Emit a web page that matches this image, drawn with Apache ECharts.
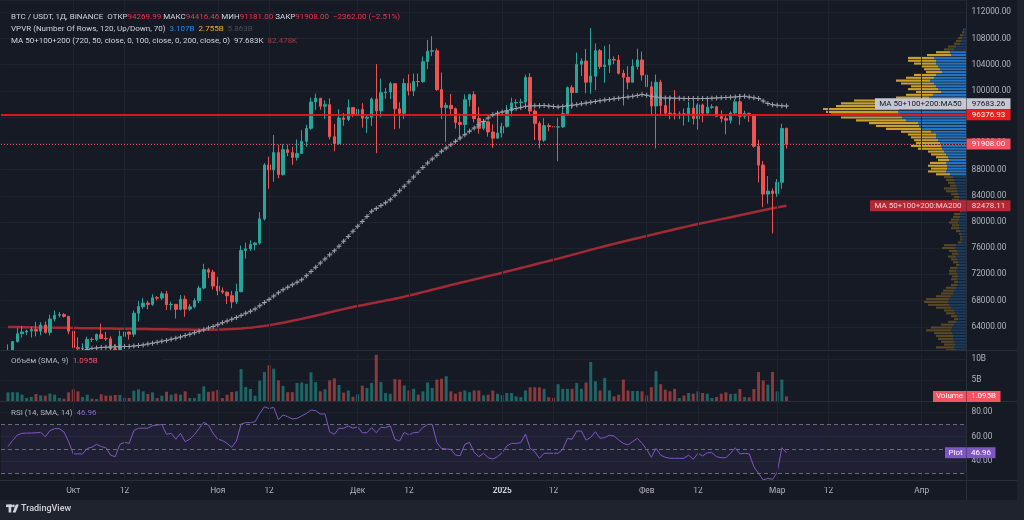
<!DOCTYPE html>
<html><head><meta charset="utf-8">
<script src="https://cdn.jsdelivr.net/npm/echarts@6/dist/echarts.min.js"></script>
<style>html,body{margin:0;padding:0;background:#161a25;overflow:hidden}#c{width:1024px;height:520px}</style>
</head><body><div id="c"></div>
<script>
// ---------------- DATA ----------------
const firstDate = '2024-09-16';        // first (empty) category slot
const categoryCount = 207;              // Sep 16 2024 .. Apr 10 2025
const candleStart = '2024-09-17';
const open = [58212,60309,61759,62948,63201,63348,63578,63339,64262,63152,65173,65769,65858,65602,
63327,60804,60649,60754,62086,62058,62819,62224,62160,60636,60326,62540,63206,62870,66083,67074,67620,67421,68428,68378,69032,67377,67426,66668,68199,66698,67048,67979,69907,72720,72340,
70215,69486,69289,68742,67811,69359,75640,75904,76545,76778,80471,88705,87955,90588,87251,91032,90587,89855,90465,92310,94286,98317,98892,97672,97901,93010,91965,95864,95643,97461,
96408,97185,95840,96002,98768,96945,99740,99832,101110,97276,96593,101125,100000,101424,101420,104463,106058,106133,100204,97461,97805,97292,95187,94881,98663,99430,95792,94299,95300,93738,92792,
93576,94592,96985,98174,98236,98314,102078,96922,95043,92484,94701,94566,94488,94516,96534,100505,99757,104079,104556,101331,102260,106144,103706,103960,104819,104714,102682,102087,101332,103733,104722,
102429,100635,97700,101328,97763,96613,96554,96462,96500,96444,97391,95778,97870,96608,97500,97570,96118,95780,95539,96635,98334,96125,96577,96273,91552,88680,84250,84708,
84350,86064,94269.99];
const high = [61320,61786,63850,64133,63559,64000,64745,64688,64817,65839,66498,66260,66076,65618,
64130,62390,61470,62484,62370,62975,64478,63200,62543,61321,63417,63480,63285,66500,67950,68424,67939,68969,68694,69400,69500,67836,67472,68850,68771,67454,68350,70270,73620,72961,72700,
71632,70000,69380,69481,70577,76400,76849,77199,76955,81500,89000,89956,93265,91790,91850,91779,91449,92594,94002,94831,98988,99588,98908,98564,98871,94973,97208,96650,98693,97499,
97836,98130,96305,99000,104088,101898,100439,101399,101215,98270,101895,102540,102650,102650,105250,107793,108353,106470,102800,98233,99540,97448,96538,99487,99569,99963,97544,95525,95340,94903,96250,
95151,97839,98976,98734,98813,102482,102724,97258,95349,95836,95050,95361,95900,97371,100681,100873,105865,104988,106422,109588,107240,106394,106850,107120,105286,105500,103220,103783,104800,106457,106012,
102783,101456,102500,101700,99113,99197,100137,96880,97323,98345,98478,98119,98078,98826,97972,97732,97047,96300,96890,98756,99508,96980,96670,96500,92540,89286,87000,85120,
86543,95000,94416.46];
const low = [57610,59174,61555,62350,62759,62357,62538,62700,62947,62670,64819,65422,65432,62856,
60164,59828,59900,60460,61675,61798,62128,61860,60300,58946,60087,62487,62050,62457,64800,66750,66666,67177,68020,68100,66570,66571,65260,66510,65520,66439,66800,67618,69730,71436,69685,
68820,69000,67478,66835,67458,69298,74416,75555,75679,76492,80216,85072,86127,86668,87073,90056,88722,89376,90389,91500,94040,97122,97137,95734,92600,90791,91792,94677,95407,96000,
95693,94395,93578,94660,90500,95981,98844,98771,94150,94256,95700,99311,99206,100626,101234,103333,105321,100000,95700,92232,96398,94250,92520,93400,97632,95200,93500,94014,93010,91317,92750,
92888,94392,96100,97562,97291,97926,96182,92500,91220,92206,93831,93712,89256,94322,96500,97268,99700,102277,99651,99550,100119,103339,101262,102750,104106,102520,97777,100233,101328,103278,101560,
100280,96150,91231,96150,96150,95677,95650,95688,94713,95256,94876,94088,95217,96250,97232,96046,95205,93388,95026,96400,94830,95770,95270,91350,86050,82256,82786,78258,
83824,85040,91181];
const close = [60309,61759,62947,63201,63348,63578,63339,64262,63152,65173,65769,65858,65602,63327,
60805,60649,60752,62086,62058,62819,62224,62160,60636,60326,62540,63206,62870,66083,67074,67620,67421,68428,68378,69032,67377,67426,66668,68199,66698,67048,67979,69907,72720,72340,70215,
69482,69289,68741,67811,69359,75639,75904,76545,76778,80474,88701,87955,90585,87250,91032,90587,89855,90465,92310,94286,98317,98892,97672,97900,93010,91965,95864,95643,97460,96408,
97185,95840,96002,98768,96945,99740,99831,101109,97276,96593,101125,100000,101424,101420,104463,106058,106133,100204,97461,97805,97291,95187,94881,98663,99430,95792,94299,95300,93738,92792,93576,
94592,96985,98174,98236,98314,102078,96922,95043,92484,94701,94566,94488,94516,96534,100504,99756,104079,104556,101331,102260,106144,103706,103960,104819,104714,102682,102087,101332,103733,104722,102429,
100635,97700,101328,97763,96613,96554,96462,96500,96444,97391,95778,97870,96608,97500,97570,96118,95780,95539,96635,98334,96125,96577,96273,91552,88680,84250,84708,84350,
86064,94270,91908];
// volume, billions
const volume = [2.06,2.1,2.06,1.5,0.7,0.95,1.67,1.35,1.27,1.8,1.5,0.7,0.55,2.06,
2.78,2.3,0.95,1.5,0.55,0.48,1.6,1.27,1.27,1.43,1.43,0.7,0.7,2.46,2.78,2.3,1.67,2.06,0.7,1.27,2.2,1.5,1.75,1.5,2.3,0.7,0.7,1.75,3.5,2.2,2.3,
2.6,0.7,1.5,2.14,2.3,7.6,3.3,2.86,1.27,4.84,6.9,8.5,7.7,4.9,3.6,2.1,2.1,4.3,4.4,4.1,6.8,4.5,2.3,2.8,4.9,5.4,3.8,2.0,2.5,1.0,
1.6,3.65,3.1,4.3,11.0,4.5,1.9,1.7,5.2,5.1,3.7,2.5,2.9,1.5,2.3,4.4,3.1,5.1,5.3,5.9,2.3,1.75,2.2,2.5,2.1,2.5,2.5,1.35,1.5,2.5,1.75,
1.4,1.9,1.9,1.1,0.9,2.5,3.25,3.25,3.25,2.9,0.9,0.7,4.0,2.9,2.9,2.9,4.3,2.9,4.4,9.3,4.7,2.5,5.5,2.5,1.1,1.5,5.1,2.5,2.4,2.4,2.3,
1.3,3.3,7.1,4.0,2.7,2.3,2.9,0.7,1.3,1.9,1.75,2.3,1.9,1.75,0.7,0.95,1.75,2.06,1.67,1.75,2.86,0.95,0.87,2.86,6.9,4.9,3.9,6.9,
2.3,5.1,1.095];
const rsi = [52,57,61.4,62.8,63,63,63.2,63.6,60,65,66.6,66.6,64,56,
46,46,46,50.5,51.4,53.8,52,51,45,43.7,53.8,55.4,54.6,65,67,67,67,69,69.6,70,62,62.8,58,62.8,56,58,61.7,66.9,71.8,69.6,62.8,
58,57,54.6,51.4,56.5,70.4,71.5,71.5,72.3,79,84.5,83,84,74,77.8,76.4,74.5,75,77,79,81.8,81.3,78.6,78.6,64,62,66.9,66.9,68.8,66.9,
68.2,63.3,63.3,67.4,63.3,67.7,67.4,69,57.9,56.5,63.6,61.4,63.3,63.6,67.4,70.1,70.1,55.2,50.5,50,49.7,45,44.6,53.8,55.4,47.3,43.7,46.5,42.9,41.8,43.7,
47,52.4,54.6,54.6,55.2,62.2,50.5,47.8,42.4,46.5,46.5,46.5,46.5,49.7,58.7,57.9,64.7,64.7,57.3,59.5,64.1,58.7,59.3,61.2,60.6,57.3,54.6,53.3,56,58.7,54.6,
49.7,43.2,50.5,45,43.2,42.4,42.4,42.4,42.4,45,41.6,46.5,44.3,47,47,43.7,42.9,42.9,46.5,51,46,46.5,46,35.6,30.1,24.7,26,25.2,
31,51,46.96];
const ma50Start = '2024-10-03';
const ma50 = [60350,60520,60680,60780,60850,60880,60900,60940,60960,60990,
61000,61050,61130,61240,61370,61500,61640,61780,61920,62080,
62250,62450,62660,62880,63100,63330,63560,63800,64060,64330,
64600,64880,65150,65420,65740,66050,66380,66720,67200,67700,
68180,68700,69180,69670,70050,70420,70800,71190,71800,72450,
73100,73740,74350,74980,75620,76280,77050,77800,78580,79330,
80080,80850,81620,82050,82500,82950,83400,84080,84760,85440,
86150,86870,87580,88300,89010,89600,90190,90780,91300,91800,
92320,92820,93330,93840,94340,94850,95350,95860,96380,96580,
96780,96960,97150,97320,97480,97650,97690,97720,97740,97760,
97700,97620,97550,97640,97730,97820,97910,98030,98160,98280,
98400,98520,98620,98710,98800,98900,98990,99080,99180,99310,
99440,99330,99200,99080,98960,98930,98910,98890,98880,98860,
98850,98840,98830,98830,98860,98900,98940,98970,99000,99030,
99090,99140,99180,99060,98950,98830,98450,98070,97900,97800,
97740,97683.26];
const ma200 = [63970,63960,63950,63940,63930,63920,63910,63900,63890,63880,
63870,63860,63850,63840,63820,63800,63790,63780,63770,63760,
63750,63740,63730,63720,63710,63700,63690,63680,63670,63660,
63650,63640,63630,63620,63610,63600,63590,63580,63575,63570,
63565,63560,63560,63560,63560,63570,63590,63620,63650,63690,
63740,63800,63870,63950,64040,64140,64250,64370,64500,64630,
64770,64910,65060,65210,65370,65530,65690,65860,66030,66200,
66370,66540,66700,66860,67010,67160,67300,67440,67580,67720,
67860,68000,68140,68290,68440,68600,68770,68940,69110,69290,
69470,69650,69830,70010,70190,70370,70540,70710,70880,71050,
71220,71390,71560,71730,71900,72070,72250,72430,72610,72790,
72970,73150,73330,73510,73690,73870,74050,74230,74410,74600,
74790,74980,75170,75360,75550,75740,75930,76120,76300,76480,
76660,76840,77010,77180,77350,77520,77690,77860,78030,78200,
78370,78540,78710,78880,79050,79210,79370,79530,79680,79830,
79980,80130,80280,80430,80580,80730,80880,81030,81180,81330,
81480,81630,81780,81930,82080,82220,82350,82478.11];
const horizontalLevel = 96376.93;
// volume profile (VPVR), 120 rows bottom->top, millions
const profileLow = 57610, profileHigh = 109588, profileRows = 120;
const valueAreaRows = [68, 111];
const profileUp = [328,369,410,328,410,369,410,492,451,492,533,533,574,615,574,492,410,328,369,451,
492,615,697,738,697,615,533,492,410,369,328,369,328,369,410,369,287,328,369,410,
328,369,451,410,205,164,164,205,246,287,287,328,287,246,246,164,205,205,246,287,
287,328,369,369,410,451,492,533,656,820,779,779,820,697,738,820,902,984,1025,1066,
1148,1230,1230,1435,1804,1927,1968,2460,2624,2706,2788,2747,2665,2542,2255,1517,1353,1025,1148,1230,
1312,1476,1312,1230,984,1066,1148,1230,1230,1312,615,656,492,410,246,205,164,123,82,82];
const profileDown = [410,451,492,328,574,451,410,738,451,533,615,697,738,1025,861,533,328,164,246,369,
410,615,861,984,943,615,492,451,410,246,164,246,246,328,287,287,123,205,246,328,
246,328,533,492,123,82,82,82,164,328,287,369,328,287,246,82,82,123,164,287,
205,287,451,533,246,287,328,369,574,738,656,779,656,451,492,615,656,984,1230,984,
984,1025,1148,1230,1476,1763,2009,2050,2501,2829,2952,3116,2665,2583,2337,1353,1107,1025,1230,1025,
1353,1394,1148,902,656,656,697,902,1148,1066,984,574,410,328,246,205,164,123,82,41];
const vpvrLegend = ['3.107B', '2.755B', '5.863B'];
const monthNames = ['Янв','Фев','Мар','Апр','Май','Июн','Июл','Авг','Сен','Окт','Ноя','Дек'];

// ---------------- BUILD ----------------
const F = 'Roboto, "Liberation Sans", sans-serif';
const BG = '#161a25', TXT = '#b2b5be', GRID = '#1f2330', SEP = '#2a2e39';
const UP = '#26a69a', DOWN = '#ef5350';
const AX = 8.3;   // axis label font size
const p0 = firstDate.split('-').map(Number);
const categories = [];
for (let i = 0; i < categoryCount; i++) categories.push(new Date(Date.UTC(p0[0], p0[1]-1, p0[2] + i)).toISOString().slice(0, 10));
const cIdx0 = categories.indexOf(candleStart);
const dates = open.map((_, k) => categories[cIdx0 + k]);
const gridDates = categories.filter(c => c.endsWith('-01') || c.endsWith('-12'));
const m50i = categories.indexOf(ma50Start);

const candleData = dates.map((d, k) => [d, open[k], close[k], low[k], high[k]]);
const volData = dates.map((d, k) => [d, volume[k], close[k] >= open[k] ? 1 : -1]);
const rsiData = dates.map((d, k) => [d, rsi[k]]);
const ma200Data = dates.map((d, k) => [d, ma200[k]]);
const ma50Data = ma50.map((v, k) => [categories[m50i + k], v]);
const profData = profileUp.map((u, k) => [k, u, profileDown[k]]);
const rowH = (profileHigh - profileLow) / profileRows;
const profMax = 8200;

const L = open.length - 1;
const lastClose = close[L];

const catAxis = (gi, extra) => Object.assign({
  type: 'category', gridIndex: gi, data: categories, boundaryGap: true,
  axisLine: {show: false}, axisTick: {show: false}, axisLabel: {show: false}, splitLine: {show: false}
}, extra || {});
const valAxisStyle = {
  position: 'right', axisLine: {show: false}, axisTick: {show: false},
  splitLine: {show: true, lineStyle: {color: GRID, width: 1}}
};
const vLines = gridDates.map(d => ({xAxis: d}));
const hiddenLine = {opacity: 0};
const gridBase = {containLabel: false, outerBoundsMode: 'none'};

const crossPath = 'path://M2,0L3,0L3,2L5,2L5,3L3,3L3,5L2,5L2,3L0,3L0,2L2,2Z';

const option = {
  backgroundColor: BG,
  animation: false,
  textStyle: {fontFamily: F},
  grid: [
    Object.assign({left: 1, top: 0, width: 965, height: 353}, gridBase),
    Object.assign({left: 1, top: 350, width: 965, height: 51}, gridBase),
    Object.assign({left: 1, top: 401, width: 965, height: 84.75}, gridBase),
    Object.assign({left: 766, top: 0, width: 200, height: 353}, gridBase)
  ],
  xAxis: [
    catAxis(0), catAxis(1),
    catAxis(2, {axisLabel: {
      show: true, margin: 1, color: TXT, fontSize: AX, fontFamily: F,
      interval: (i, v) => v.endsWith('-01') || v.endsWith('-12'),
      formatter: v => {
        const [y, m, d] = v.split('-');
        if (d === '12') return '12';
        if (m === '01') return '{y|' + y + '}';
        return monthNames[+m - 1];
      },
      rich: {y: {fontWeight: 'bold', color: '#d1d4dc', fontSize: AX, fontFamily: F}}
    }}),
    {type: 'value', gridIndex: 3, min: 0, max: profMax, inverse: true, show: false}
  ],
  yAxis: [
    Object.assign({type: 'value', gridIndex: 0, min: 60000, max: 113880, interval: 4000,
      axisLabel: {color: TXT, fontSize: AX, fontFamily: F, margin: 5.5, showMinLabel: false, showMaxLabel: false,
        formatter: v => v.toFixed(2)}}, valAxisStyle),
    Object.assign({type: 'value', gridIndex: 1, min: 0, max: 12.14, interval: 5,
      axisLabel: {color: TXT, fontSize: AX, fontFamily: F, margin: 5.5, showMinLabel: false, showMaxLabel: false,
        formatter: v => v + 'B'}}, valAxisStyle),
    Object.assign({type: 'value', gridIndex: 2, min: 20, max: 89.18, interval: 20,
      axisLabel: {color: TXT, fontSize: AX, fontFamily: F, margin: 5.5, showMinLabel: false, showMaxLabel: false,
        formatter: v => v.toFixed(2)}}, valAxisStyle),
    {type: 'value', gridIndex: 3, min: 60000, max: 113880, show: false}
  ],
  series: [
    // grid helper (price pane): vertical grid + last price dotted line
    {type: 'line', xAxisIndex: 0, yAxisIndex: 0, z: 1, silent: true, clip: true, data: dates.map((d, k) => [d, close[k]]),
      symbol: 'none', lineStyle: hiddenLine,
      markLine: {silent: true, symbol: 'none', label: {show: false}, animation: false,
        lineStyle: {color: GRID, width: 1, type: 'solid'},
        data: vLines.concat([{yAxis: lastClose, lineStyle: {color: '#f7525f', width: 1, type: [1, 2]}}])}},
    // volume profile
    {type: 'custom', xAxisIndex: 3, yAxisIndex: 3, z: 2, silent: true, clip: true, data: profData,
      renderItem: (params, api) => {
        const k = api.value(0), up = api.value(1), dn = api.value(2);
        const lo = profileLow + k * rowH, hi = lo + rowH;
        const a = api.coord([0, hi]), b = api.coord([up, lo]), c = api.coord([up + dn, lo]);
        const inVA = k >= valueAreaRows[0] && k <= valueAreaRows[1];
        const y = a[1] + 0.35, h = Math.max(0.8, b[1] - a[1] - 0.7);
        return {type: 'group', children: [
          {type: 'rect', shape: {x: b[0], y, width: a[0] - b[0], height: h}, style: {fill: inVA ? '#2674bd' : '#1c3b5c'}},
          {type: 'rect', shape: {x: c[0], y, width: b[0] - c[0], height: h}, style: {fill: inVA ? '#c9a02e' : '#574826'}}
        ]};
      }},
    // MA200
    {type: 'line', xAxisIndex: 0, yAxisIndex: 0, z: 3, silent: true, clip: true, data: ma200Data, symbol: 'none',
      lineStyle: {color: '#a32a35', width: 2.5}},
    // candles
    {type: 'candlestick', xAxisIndex: 0, yAxisIndex: 0, z: 4, silent: true, clip: true, data: candleData,
      encode: {x: 0, y: [1, 2, 3, 4]}, barWidth: 3,
      itemStyle: {color: UP, color0: DOWN, borderColor: UP, borderColor0: DOWN, borderWidth: 1},
      markLine: {silent: true, symbol: 'none', label: {show: false}, animation: false,
        data: [{yAxis: horizontalLevel, lineStyle: {color: '#e3161c', width: 2, type: 'solid', opacity: 0.95}}]}},
    // MA50 (cross style)
    {type: 'line', xAxisIndex: 0, yAxisIndex: 0, z: 5, silent: true, clip: true, data: ma50Data,
      symbol: crossPath, symbolSize: 5, showSymbol: true, showAllSymbol: true,
      itemStyle: {color: '#9ea1aa'}, lineStyle: {color: '#70737d', width: 1}},
    // volume pane helper
    {type: 'line', xAxisIndex: 1, yAxisIndex: 1, z: 1, silent: true, data: volData.map(v => [v[0], v[1]]),
      symbol: 'none', lineStyle: hiddenLine,
      markLine: {silent: true, symbol: 'none', label: {show: false}, animation: false,
        lineStyle: {color: GRID, width: 1, type: 'solid'}, data: vLines}},
    {type: 'bar', xAxisIndex: 1, yAxisIndex: 1, z: 2, silent: true, clip: true, data: volData, barWidth: 3,
      encode: {x: 0, y: 1},
      itemStyle: {color: p => p.data[2] > 0 ? 'rgba(38,166,154,0.55)' : 'rgba(239,83,80,0.55)'}},
    // RSI pane helper
    {type: 'line', xAxisIndex: 2, yAxisIndex: 2, z: 1, silent: true, data: rsiData,
      symbol: 'none', lineStyle: hiddenLine,
      markArea: {silent: true, itemStyle: {color: 'rgba(126,87,194,0.1)'}, data: [[{yAxis: 30}, {yAxis: 70}]]},
      markLine: {silent: true, symbol: 'none', label: {show: false}, animation: false,
        lineStyle: {color: GRID, width: 1, type: 'solid'},
        data: vLines.concat([70, 50, 30].map(v => ({yAxis: v, lineStyle: {color: '#6a6d78', width: 1, type: [4, 3]}})))}},
    {type: 'line', xAxisIndex: 2, yAxisIndex: 2, z: 3, silent: true, clip: true, data: rsiData, symbol: 'none',
      lineStyle: {color: '#7e57c2', width: 1}}
  ]
};

const chart = echarts.init(document.getElementById('c'));
chart.setOption(option);

// ---------------- OVERLAYS ----------------
const py = v => chart.convertToPixel({yAxisIndex: 0}, v);
const vy = v => chart.convertToPixel({yAxisIndex: 1}, v);
const ry = v => chart.convertToPixel({yAxisIndex: 2}, v);
const px = d => chart.convertToPixel({xAxisIndex: 0}, d);
const fnt = s => s + 'px ' + F;
const els = [];
const rect = (x, y, w, h, fill, z) => els.push({type: 'rect', z: z || 60, silent: true, shape: {x, y, width: w, height: h}, style: {fill}});
const line = (x1, y1, x2, y2, stroke, z) => els.push({type: 'line', z: z || 70, silent: true, shape: {x1, y1, x2, y2}, style: {stroke, lineWidth: 1}});
const text = (x, y, t, fill, opts) => els.push(Object.assign({type: 'text', z: 80, silent: true, x, y,
  style: Object.assign({text: t, fill, font: fnt(8), align: 'left', verticalAlign: 'middle'}, (opts || {}))}));
const tag = (x, w, yc, bg, t, col) => { rect(x, yc - 5.5, w, 11, bg, 75); text(x + w / 2, yc, t, col, {align: 'center'}); };

// covers for price overflow below the price pane (candles are only dropped when fully outside)
const overflowBottom = Math.ceil(py(Math.min.apply(null, low))) + 2;
const lowCandleEnd = Math.ceil(px('2024-10-20'));
rect(0, 350.5, 966, 3.5, BG, 50);
rect(0, 350.5, lowCandleEnd, overflowBottom - 350.5, BG, 50);
gridDates.forEach(d => { const x = px(d); if (x < lowCandleEnd) line(x, 351, x, overflowBottom, GRID, 55); });
rect(0, 481, 966, 6, BG, 50);
// frame strips
rect(1017, 0, 7, 520, '#1f232e', 90);
rect(0, 500, 1024, 20, '#1f232e', 90);
// separators
line(0, 350.5, 1017, 350.5, SEP);
line(0, 401.5, 1017, 401.5, SEP);
line(0, 480.5, 1017, 480.5, SEP);
line(966.5, 0, 966.5, 500, SEP);

// price tags
const yMA50 = py(ma50[ma50.length - 1]), yLvl = py(horizontalLevel), yLast = py(lastClose), yMA200 = py(ma200[L]);
const yMA50tag = Math.min(yMA50, yLvl - 11);
tag(875, 91, yMA50tag, '#c5c8d0', 'MA 50+100+200:MA50', '#131722');
tag(966.5, 44, yMA50tag, '#c5c8d0', ma50[ma50.length - 1].toFixed(2), '#131722');
tag(966.5, 44, yLvl, '#f01c1c', horizontalLevel.toFixed(2), '#ffffff');
tag(966.5, 44, yLast, '#f7525f', lastClose.toFixed(2), '#ffffff');
tag(870, 96, yMA200, '#b22833', 'MA 50+100+200:MA200', '#f0d0d3');
tag(966.5, 44, yMA200, '#b22833', ma200[L].toFixed(2), '#f0d0d3');
tag(933, 33, vy(volume[L]), '#f7525f', 'Volume', '#ffffff');
tag(966.5, 34, vy(volume[L]), '#f7525f', volume[L].toFixed(3) + 'B', '#ffffff');
tag(945, 21, ry(rsi[L]), '#7e57c2', 'Plot', '#ffffff');
tag(966.5, 29, ry(rsi[L]), '#7e57c2', rsi[L].toFixed(2), '#ffffff');

// legends
const chg = close[L] - close[L - 1];
const pct = chg / close[L - 1] * 100;
const sgn = v => (v < 0 ? '\u2212' : '+') + Math.abs(v).toFixed(2);
const R = c => ({fill: c, fontSize: 8, fontFamily: F});
els.push({type: 'text', z: 80, silent: true, x: 11, y: 16.5, style: {
  text: '{t|BTC / USDT, 1Д, BINANCE  ОТКР}{r|' + open[L].toFixed(2) + '}{t| МАКС}{r|' + high[L].toFixed(2) +
        '}{t| МИН}{r|' + low[L].toFixed(2) + '}{t| ЗАКР}{r|' + close[L].toFixed(2) + '}{r|  ' + sgn(chg) + ' (' + sgn(pct) + '%)}',
  verticalAlign: 'middle', rich: {t: R('#d1d4dc'), r: R('#f23645')}}});
els.push({type: 'text', z: 80, silent: true, x: 11, y: 28.5, style: {
  text: '{t|VPVR (Number Of Rows, ' + profileRows + ', Up/Down, 70)  }{b|' + vpvrLegend[0] + '}{t|  }{y|' + vpvrLegend[1] + '}{t|  }{g|' + vpvrLegend[2] + '}',
  verticalAlign: 'middle', rich: {t: R('#d1d4dc'), b: R('#2a8ae0'), y: R('#e9b42c'), g: R('#4a4d58')}}});
els.push({type: 'text', z: 80, silent: true, x: 11, y: 40.5, style: {
  text: '{t|MA 50+100+200 (720, 50, close, 0, 100, close, 0, 200, close, 0)  }{w|' + (ma50[ma50.length - 1] / 1000).toFixed(3) + 'K}{t|  }{m|' + (ma200[L] / 1000).toFixed(3) + 'K}',
  verticalAlign: 'middle', rich: {t: R('#d1d4dc'), w: R('#d1d4dc'), m: R('#b8323d')}}});
els.push({type: 'text', z: 80, silent: true, x: 11, y: 361, style: {
  text: '{t|Объём (SMA, 9)  }{r|' + volume[L].toFixed(3) + 'B}', verticalAlign: 'middle', rich: {t: R('#b2b5be'), r: R('#f7525f')}}});
els.push({type: 'text', z: 80, silent: true, x: 11, y: 413.3, style: {
  text: '{t|RSI (14, SMA, 14)  }{r|' + rsi[L].toFixed(2) + '}', verticalAlign: 'middle', rich: {t: R('#b2b5be'), r: R('#8f6ad4')}}});

// TradingView logo
els.push({type: 'rect', z: 95, silent: true, shape: {x: 6, y: 504.5, width: 6, height: 2.6}, style: {fill: '#d1d4dc'}});
els.push({type: 'rect', z: 95, silent: true, shape: {x: 8.6, y: 504.5, width: 2.6, height: 8}, style: {fill: '#d1d4dc'}});
els.push({type: 'circle', z: 95, silent: true, shape: {cx: 13.4, cy: 505.9, r: 1.4}, style: {fill: '#d1d4dc'}});
els.push({type: 'polygon', z: 95, silent: true, shape: {points: [[15.8, 504.5], [18.8, 504.5], [15.6, 512.5], [12.6, 512.5]]}, style: {fill: '#d1d4dc'}});
els.push({type: 'text', z: 95, silent: true, x: 21, y: 508.7, style: {text: 'TradingView', fill: '#d1d4dc', font: '500 9px ' + F, verticalAlign: 'middle'}});

chart.setOption({graphic: {elements: els}});
</script></body></html>
